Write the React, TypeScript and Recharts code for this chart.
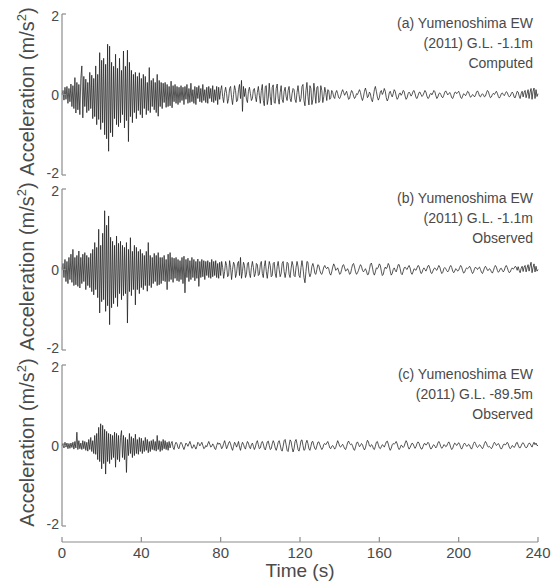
import { Line, LineChart, XAxis, YAxis } from "recharts";

// samples are 0.5 s apart
const timeStep = 0.5;
const timeTicks = [0, 40, 80, 120, 160, 200, 240];
const accelTicks = [-2, 0, 2];

const computedGL1 = [
  0, 0.1, -0.14, 0.18, -0.12, 0.2, -0.22, 0.15, -0.18, 0.26, -0.3, 0.22, -0.35, 0.42, -0.46, 0.3, -0.38, 0.25, -0.5, 0.4,
  0.71, -0.58, 0.45, -0.3, 0.38, -0.45, 0.3, -0.4, 0.55, -0.35, 0.48, -0.6, 0.4, -0.55, 0.71, -0.75, 0.5, -0.62, 1.04, -0.87,
  0.85, -0.7, 0.9, -1.0, 0.75, -1.1, 1.25, -1.41, 1.2, -0.95, 0.8, -1.05, 0.7, -0.6, 1.0, -0.75, 0.65, -0.8, 0.9, -0.7,
  0.6, -0.5, 1.08, -0.83, 0.7, -0.65, 1.1, -1.17, 0.8, -0.55, 0.6, -0.7, 0.5, -0.45, 0.55, -0.6, 0.45, -0.4, 0.54, -0.5,
  0.4, -0.58, 0.5, -0.35, 0.45, -0.5, 0.3, -0.4, 0.67, -0.45, 0.35, -0.3, 0.4, -0.38, 0.3, -0.45, 0.5, -0.54, 0.35, -0.3,
  0.3, -0.35, 0.28, -0.2, 0.3, -0.32, 0.25, -0.3, 0.2, -0.28, 0.33, -0.33, 0.22, -0.18, 0.25, -0.22, 0.2, -0.25, 0.18, -0.2,
  0.22, -0.15, 0.18, -0.25, 0.2, -0.12, 0.25, -0.22, 0.15, -0.2, 0.28, -0.18, 0.12, -0.22, 0.2, -0.25, 0.18, -0.1, 0.22, -0.18,
  0.15, -0.2, 0.25, -0.15, 0.12, -0.2, 0.18, -0.22, 0.2, -0.1, 0.15, -0.18, 0.22, -0.2, 0.12, -0.15, 0.2, -0.25, 0.18, -0.12,
  0.1, 0.22, -0.05, -0.2, 0.05, 0.18, 0.02, -0.22, -0.1, 0.15, 0.2, -0.08, -0.25, 0.0, 0.22, 0.1, -0.18, -0.15, 0.12, 0.25,
  -0.1, 0.35, -0.42, 0.2, -0.05, 0.15, -0.12, -0.2, 0.08, 0.18, 0.02, -0.15, -0.1, 0.12, 0.15, -0.05, -0.18, 0.05, 0.2, -0.02,
  -0.22, 0.1, 0.25, -0.15, -0.28, 0.2, 0.22, -0.25, -0.1, 0.28, -0.05, -0.26, 0.18, 0.24, -0.2, -0.22, 0.15, 0.26, -0.1, -0.24,
  0.05, 0.22, -0.12, -0.2, 0.08, 0.18, -0.05, -0.15, 0.1, 0.2, -0.1, -0.18, 0.02, 0.15, 0.12, -0.12, -0.2, 0.05, 0.22, 0.0,
  -0.18, -0.1, 0.2, 0.25, -0.15, -0.28, 0.1, 0.3, -0.05, -0.26, 0.22, 0.15, -0.25, -0.12, 0.28, 0.05, -0.22, 0.18, 0.2, -0.2,
  -0.15, 0.22, 0.1, -0.2, -0.05, 0.18, 0.05, -0.15, 0.12, 0.1, -0.12, -0.08, 0.1, 0.05, -0.06, -0.1, 0.04, 0.1, 0.02, -0.08,
  -0.1, -0.04, 0.06, 0.12, 0.05, -0.02, 0.03, 0.08, -0.02, -0.12, -0.1, 0.02, 0.1, 0.06, -0.04, -0.1, -0.06, 0.02, 0.0, 0.06,
  0.12, 0.05, -0.08, -0.15, -0.06, 0.08, 0.16, 0.06, -0.08, -0.04, 0.06, 0.02, -0.12, -0.18, -0.05, 0.12, 0.2, 0.08, -0.06, -0.14,
  -0.08, 0.06, 0.1, 0.0, 0.05, 0.15, 0.08, -0.08, -0.16, -0.1, 0.04, 0.08, 0.0, -0.06, 0.02, 0.12, 0.08, -0.04, -0.12, -0.08,
  0.02, 0.04, -0.02, 0.02, 0.1, 0.08, -0.04, -0.12, -0.08, 0.02, 0.06, 0.02, -0.04, 0.0, 0.08, 0.1, 0.02, -0.08, -0.1, -0.03,
  0.05, 0.06, 0.0, -0.05, -0.02, 0.04, 0.1, 0.06, -0.04, -0.1, -0.08, 0.0, 0.03, -0.01, 0.04, 0.1, 0.07, -0.03, -0.1, -0.06,
  0.02, 0.04, 0.0, -0.06, -0.08, -0.02, 0.06, 0.09, 0.04, -0.01, 0.02, 0.05, 0.0, -0.08, -0.1, -0.03, 0.05, 0.06, 0.02, 0.05,
  0.08, 0.02, -0.07, -0.1, -0.04, 0.02, 0.0, -0.03, 0.02, 0.08, 0.06, -0.02, -0.07, -0.04, 0.0, -0.02, -0.06, -0.02, 0.06, 0.09,
  0.04, -0.04, -0.06, -0.01, 0.02, -0.01, -0.06, -0.04, 0.04, 0.1, 0.07, -0.02, -0.08, -0.06, 0.0, 0.03, 0.0, 0.04, 0.08, 0.03,
  -0.05, -0.09, -0.05, 0.02, 0.04, 0.0, -0.03, 0.02, 0.07, 0.05, -0.02, -0.06, -0.04, 0.02, 0.06, 0.02, -0.07, -0.08, 0.0, 0.08,
  0.06, -0.04, -0.1, 0.02, 0.08, -0.06, 0.05, 0.1, -0.08, 0.02, 0.12, -0.1, 0.06, 0.15, -0.12, 0.08, 0.16, -0.1, 0.12, -0.05,
  0.02,
];

const observedGL1 = [
  0, 0.15, -0.2, 0.25, -0.3, 0.2, -0.35, 0.3, -0.25, 0.38, -0.32, 0.5, -0.4, 0.3, -0.38, 0.35, -0.42, 0.46, -0.46, 0.3,
  -0.35, 0.38, -0.3, 0.42, -0.5, 0.35, -0.4, 0.3, -0.45, 0.4, -0.55, 0.5, -0.63, 0.67, -0.5, 0.55, -0.7, 1.0, -1.08, 0.6,
  -0.8, 0.9, -0.75, 1.46, -1.04, 1.1, -0.9, 1.33, -1.37, 0.8, -0.95, 0.7, -0.85, 0.6, -0.7, 0.83, -0.92, 0.65, -0.6, 0.7,
  -0.75, 0.6, -0.65, 0.55, -0.6, 0.67, -1.33, 0.5, -0.55, 0.79, -0.65, 0.45, -0.5, 0.6, -0.88, 0.55, -0.5, 0.45, -0.6, 0.5,
  -0.45, 0.4, -0.5, 0.35, -0.4, 0.45, -0.54, 0.67, -0.4, 0.35, -0.45, 0.3, -0.35, 0.4, -0.3, 0.35, -0.4, 0.42, -0.38, 0.3,
  -0.35, 0.3, -0.28, 0.35, -0.3, 0.25, -0.5, 0.38, -0.3, 0.42, -0.25, 0.3, -0.32, 0.28, -0.22, 0.3, -0.28, 0.25, -0.3, 0.22,
  -0.25, 0.3, -0.35, 0.33, -0.58, 0.25, -0.2, 0.28, -0.3, 0.22, -0.25, 0.3, -0.2, 0.25, -0.28, 0.2, -0.22, 0.26, -0.42, 0.2,
  -0.2, 0.25, -0.18, 0.22, -0.25, 0.2, -0.15, 0.22, -0.2, 0.18, -0.22, 0.25, -0.18, 0.2, -0.15, 0.22, -0.2, 0.15, -0.22, 0.18,
  -0.15, 0.2, 0.05, -0.22, -0.05, 0.2, 0.1, -0.18, -0.15, 0.22, 0.05, -0.25, 0.0, 0.18, 0.12, -0.2, -0.1, 0.15, 0.2, -0.15,
  0.3, -0.22, -0.05, 0.18, 0.1, -0.2, -0.12, 0.15, 0.18, -0.1, -0.2, 0.05, 0.2, 0.05, -0.18, -0.1, 0.15, 0.12, -0.15, -0.12,
  0.12, 0.2, -0.1, -0.2, 0.08, 0.22, -0.05, -0.22, 0.0, 0.2, 0.1, -0.18, -0.15, 0.15, 0.18, -0.1, -0.2, 0.08, 0.2, 0.0,
  -0.18, -0.1, 0.15, 0.2, -0.05, -0.2, -0.05, 0.18, 0.15, -0.12, -0.2, 0.02, 0.2, 0.1, -0.15, -0.18, 0.05, 0.2, 0.08, -0.15,
  -0.2, 0.05, 0.22, 0.05, -0.2, -0.33, -0.05, 0.2, 0.18, -0.08, -0.18, -0.1, 0.08, 0.15, 0.05, -0.1, -0.12, 0.0, 0.12, 0.1,
  -0.02, -0.1, -0.12, -0.04, 0.06, 0.1, 0.04, 0.02, 0.06, 0.02, -0.1, -0.14, -0.06, 0.06, 0.14, 0.08, -0.02, 0.0, 0.04, -0.04,
  -0.12, -0.1, 0.0, 0.1, 0.12, 0.04, -0.04, -0.02, 0.02, -0.04, -0.12, -0.1, 0.02, 0.12, 0.15, 0.06, -0.06, -0.12, -0.08, -0.02,
  0.06, 0.12, 0.08, -0.02, -0.06, -0.02, 0.02, -0.04, -0.13, -0.12, 0.0, 0.13, 0.16, 0.06, -0.08, -0.14, -0.06, 0.04, 0.02, 0.06,
  0.14, 0.1, -0.04, -0.15, -0.12, 0.0, 0.06, 0.02, 0.06, 0.15, 0.1, -0.04, -0.14, -0.1, 0.0, 0.04, -0.02, -0.06, 0.02, 0.12,
  0.12, 0.02, -0.1, -0.13, -0.05, 0.04, 0.06, 0.02, 0.0, 0.06, 0.1, 0.04, -0.08, -0.12, -0.06, 0.02, 0.0, -0.02, 0.04, 0.1,
  0.08, -0.02, -0.1, -0.08, 0.0, 0.04, 0.0, -0.04, 0.02, 0.09, 0.1, 0.02, -0.08, -0.1, -0.04, 0.02, 0.04, 0.0, -0.02, 0.04,
  0.1, 0.06, -0.04, -0.1, -0.07, 0.02, 0.05, 0.02, -0.03, -0.06, -0.02, 0.06, 0.1, 0.05, -0.04, -0.08, -0.04, 0.02, 0.0, -0.04,
  -0.02, 0.05, 0.1, 0.06, -0.03, -0.09, -0.07, 0.0, 0.04, 0.02, 0.04, 0.08, 0.04, -0.05, -0.1, -0.06, 0.02, 0.06, 0.03, 0.0,
  0.04, 0.06, 0.0, -0.07, -0.1, -0.04, 0.04, 0.08, 0.04, -0.02, -0.02, 0.02, 0.0, -0.06, -0.09, -0.03, 0.05, 0.1, 0.06, -0.02,
  -0.07, -0.04, 0.02, 0.03, -0.02, -0.06, -0.02, 0.06, 0.1, 0.05, -0.03, -0.08, -0.06, 0.0, 0.04, 0.01, 0.03, 0.08, 0.06, -0.02,
  0.07, -0.02, -0.08, 0.03, 0.08, -0.05, 0.06, 0.1, -0.06, 0.04, 0.12, -0.04, 0.08, 0.18, -0.08, 0.05, 0.14, -0.06, 0.08, -0.04,
  0.0,
];

const observedGL89 = [
  0, 0.05, -0.06, 0.08, -0.04, 0.06, -0.08, 0.05, -0.07, 0.06, -0.05, 0.08, -0.09, 0.1, -0.06, 0.33, -0.1, 0.12, -0.08, 0.06,
  -0.1, 0.12, -0.08, 0.1, -0.12, 0.08, -0.14, 0.15, -0.1, 0.2, -0.15, 0.12, -0.2, 0.25, -0.22, 0.3, -0.35, 0.45, -0.4, 0.54,
  -0.58, 0.5, -0.45, 0.4, -0.71, 0.35, -0.4, 0.3, -0.45, 0.28, -0.35, 0.25, -0.3, 0.33, -0.54, 0.3, -0.35, 0.25, -0.4, 0.2,
  0.37, -0.3, 0.25, -0.35, 0.2, -0.67, 0.15, -0.25, 0.3, -0.2, 0.22, -0.3, 0.18, -0.25, 0.28, -0.2, 0.15, -0.22, 0.2, -0.15,
  0.18, -0.2, 0.12, -0.15, 0.2, -0.12, 0.15, -0.18, 0.1, -0.15, 0.12, -0.1, 0.15, -0.12, 0.1, -0.14, 0.25, -0.1, 0.12, -0.15,
  0.1, -0.12, 0.15, -0.08, 0.12, -0.1, 0.08, -0.12, 0.1, -0.06, 0.05, 0.1, -0.05, -0.1, 0.02, 0.08, 0.04, -0.06, -0.08, 0.03,
  0.08, 0.04, -0.04, -0.1, -0.02, 0.06, 0.03, -0.02, 0.04, 0.1, 0.02, -0.07, -0.05, 0.02, -0.03, -0.09, -0.02, 0.08, 0.05, -0.01,
  0.03, 0.08, 0.0, -0.08, -0.06, 0.0, -0.03, 0.04, 0.1, 0.03, -0.04, -0.02, 0.04, 0.0, -0.08, -0.1, 0.0, 0.07, 0.03, 0.06,
  0.0, -0.08, -0.04, 0.05, 0.12, 0.02, -0.08, -0.02, 0.06, 0.1, 0.04, -0.06, -0.12, -0.02, 0.08, 0.04, -0.04, 0.02, 0.1, -0.04,
  -0.12, 0.0, 0.08, 0.03, -0.05, -0.09, 0.02, 0.1, 0.06, -0.04, -0.08, 0.02, 0.06, -0.02, -0.1, -0.04, 0.07, 0.12, 0.02, -0.08,
  -0.06, 0.05, 0.1, 0.04, -0.07, -0.11, -0.02, 0.09, 0.11, 0.0, -0.1, -0.08, 0.04, 0.12, 0.06, -0.06, -0.12, -0.04, 0.08, 0.12,
  0.02, -0.1, -0.14, -0.02, 0.12, 0.15, 0.02, -0.12, -0.15, 0.0, 0.14, 0.1, -0.05, -0.16, -0.08, 0.1, 0.15, 0.04, -0.1, -0.14,
  -0.03, 0.12, 0.14, 0.0, -0.12, -0.1, 0.06, 0.13, 0.05, -0.08, -0.12, -0.02, 0.09, 0.1, 0.0, -0.08, -0.1, -0.01, 0.08, 0.09,
  0.02, -0.05, -0.1, -0.06, 0.03, 0.05, 0.02, 0.06, 0.1, 0.03, -0.06, -0.08, -0.02, 0.0, -0.04, -0.09, -0.05, 0.04, 0.12, 0.06,
  -0.02, -0.04, 0.0, 0.03, -0.02, -0.08, -0.1, -0.03, 0.07, 0.11, 0.05, 0.02, 0.04, -0.01, -0.09, -0.12, -0.04, 0.06, 0.09, 0.03,
  -0.03, 0.0, 0.05, 0.02, -0.06, -0.11, -0.06, 0.05, 0.13, 0.09, -0.01, -0.03, 0.02, 0.0, -0.08, -0.1, -0.02, 0.08, 0.1, 0.02,
  -0.06, -0.08, -0.03, 0.02, 0.0, -0.04, 0.02, 0.09, 0.11, 0.04, -0.06, -0.12, -0.07, 0.02, 0.05, 0.03, 0.06, 0.1, 0.04, -0.05,
  -0.1, -0.06, 0.01, -0.01, -0.05, -0.02, 0.06, 0.12, 0.07, -0.03, -0.09, -0.05, 0.01, 0.06, 0.04, -0.02, -0.07, -0.03, 0.05, 0.09,
  0.06, -0.02, -0.08, -0.09, -0.03, 0.04, 0.05, 0.01, 0.03, 0.08, 0.05, -0.04, -0.09, -0.06, 0.0, 0.02, -0.02, -0.06, -0.02, 0.06,
  0.1, 0.05, -0.03, -0.07, -0.04, 0.02, 0.01, -0.03, -0.01, 0.05, 0.09, 0.04, -0.05, -0.1, -0.07, 0.01, 0.06, 0.04, 0.0, 0.03,
  0.07, 0.03, -0.05, -0.09, -0.04, 0.03, 0.06, 0.02, -0.02, -0.01, 0.03, 0.01, -0.06, -0.09, -0.03, 0.05, 0.09, 0.05, -0.02, -0.05,
  -0.02, 0.02, 0.0, -0.05, -0.08, -0.03, 0.05, 0.1, 0.06, -0.01, -0.04, -0.02, -0.05, -0.08, -0.04, 0.03, 0.08, 0.05, 0.0, 0.02,
  0.05, 0.01, -0.06, -0.09, -0.05, 0.02, 0.04, 0.01, 0.04, 0.08, 0.04, -0.04, -0.08, -0.05, 0.0, -0.02, -0.05, -0.01, 0.06, 0.08,
  0.01, -0.05, -0.06, -0.01, 0.05, 0.07, 0.03, -0.03, -0.06, -0.04, 0.02, 0.06, 0.05, 0.0, -0.04, 0.03, 0.08, 0.02, 0.06, 0.0,
  0.0,
];

const notesA = ["(a) Yumenoshima EW", "(2011) G.L. -1.1m", "Computed"];
const notesB = ["(b) Yumenoshima EW", "(2011) G.L. -1.1m", "Observed"];
const notesC = ["(c) Yumenoshima EW", "(2011) G.L. -89.5m", "Observed"];

const W = 553;
const H = 586;
const PLOT_L = 62;
const PLOT_R = 538;
const PANEL_H = 161;
const AXIS_Y = 542;
const FONT = '"Liberation Sans", Arial, Helvetica, sans-serif';
const AXIS_COLOR = "#8c8c8c";
const TEXT_COLOR = "#4a4a4a";

const panels = [
  { values: computedGL1, top: 14, notes: notesA },
  { values: observedGL1, top: 189, notes: notesB },
  { values: observedGL89, top: 365, notes: notesC },
];

const toSeries = (vals: number[]) => vals.map((acc, i) => ({ t: i * timeStep, acc }));

function YTick(props: any) {
  const { x, y, payload } = props;
  // top label sits a bit under its tick, like the original
  const dy = payload.value > 0 ? 7 : payload.value < 0 ? 3 : 5;
  return (
    <g>
      <line x1={x} x2={x + 4} y1={y} y2={y} stroke={AXIS_COLOR} strokeWidth={1.2} />
      <text x={x - 3} y={y + dy} textAnchor="end" fontSize={14} fontFamily={FONT} fill={TEXT_COLOR}>
        {payload.value}
      </text>
    </g>
  );
}

function XTick(props: any) {
  const { x, y, payload } = props;
  return (
    <g>
      <line x1={x} x2={x} y1={y} y2={y - 5} stroke={AXIS_COLOR} strokeWidth={1.2} />
      <text x={x} y={y + 16} textAnchor="middle" fontSize={15} fontFamily={FONT} fill={TEXT_COLOR}>
        {payload.value}
      </text>
    </g>
  );
}

function Panel({ values, top }: { values: number[]; top: number }) {
  return (
    <div style={{ position: "absolute", left: 0, top: top - 10 }}>
      <LineChart
        width={W}
        height={PANEL_H + 20}
        data={toSeries(values)}
        margin={{ top: 10, right: W - PLOT_R, bottom: 10, left: PLOT_L - 40 }}
      >
        <XAxis dataKey="t" type="number" domain={[0, 240]} hide />
        <YAxis
          type="number"
          domain={[-2, 2]}
          ticks={accelTicks}
          interval={0}
          width={40}
          tickSize={0}
          tickMargin={0}
          tickLine={false}
          axisLine={{ stroke: AXIS_COLOR, strokeWidth: 1.2 }}
          tick={YTick}
          allowDataOverflow
        />
        <Line
          type="linear"
          dataKey="acc"
          stroke="#1e1e1e"
          strokeWidth={0.75}
          dot={false}
          isAnimationActive={false}
        />
      </LineChart>
    </div>
  );
}

function TimeAxis() {
  return (
    <div style={{ position: "absolute", left: 0, top: AXIS_Y - 20 }}>
      <LineChart
        width={W}
        height={64}
        data={timeTicks.map((t) => ({ t }))}
        margin={{ top: 10, right: W - PLOT_R, bottom: 0, left: PLOT_L }}
      >
        <XAxis
          dataKey="t"
          type="number"
          domain={[0, 240]}
          ticks={timeTicks}
          interval={0}
          height={44}
          tickSize={0}
          tickMargin={0}
          tickLine={false}
          axisLine={{ stroke: AXIS_COLOR, strokeWidth: 1.2 }}
          tick={XTick}
        />
        <YAxis hide domain={[0, 1]} />
      </LineChart>
    </div>
  );
}

export default function App() {
  return (
    <div style={{ position: "absolute", left: 0, top: 0, width: W, height: H, background: "#fff" }}>
      {panels.map((p, i) => (
        <Panel key={i} values={p.values} top={p.top} />
      ))}
      <TimeAxis />
      <svg width={W} height={H} style={{ position: "absolute", left: 0, top: 0, pointerEvents: "none" }}>
        {panels.map((p, i) => {
          const cy = p.top + PANEL_H / 2 - 3;
          return (
            <g key={i} fontFamily={FONT} fill={TEXT_COLOR}>
              <text transform={`translate(34, ${cy}) rotate(-90)`} textAnchor="middle" fontSize={20}>
                Acceleration (m/s
                <tspan dy={-8} fontSize={13}>2</tspan>
                <tspan dy={8}>)</tspan>
              </text>
              {p.notes.map((line, j) => (
                <text key={j} x={533} y={p.top + 14 + j * 20} textAnchor="end" fontSize={14}>
                  {line}
                </text>
              ))}
            </g>
          );
        })}
        <text x={(PLOT_L + PLOT_R) / 2} y={577} textAnchor="middle" fontSize={19} fontFamily={FONT} fill={TEXT_COLOR}>
          Time (s)
        </text>
      </svg>
    </div>
  );
}
